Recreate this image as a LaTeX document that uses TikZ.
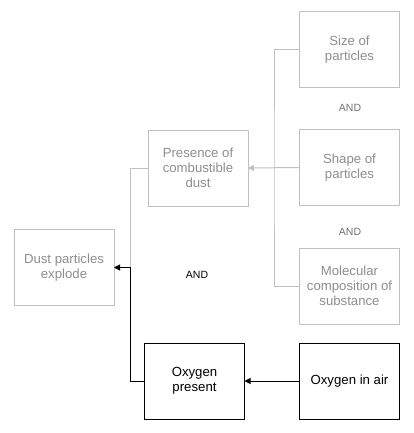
\documentclass[tikz,border=0pt]{standalone}
\usepackage{fontspec}
\setmainfont{Liberation Sans}
\usepackage{xcolor}
\usepackage{tkz-graph}
\usetikzlibrary{arrows.meta}

\definecolor{boxgrey}{HTML}{C0C0C0}
\definecolor{textgrey}{HTML}{8E8E8E}
\definecolor{andgrey}{HTML}{707070}

\tikzset{boxsize/.style = {minimum width=100pt, minimum height=76pt,
                           align=center, font=\fontsize{13.2}{15}\selectfont},
         greylink/.style = {draw=boxgrey, line width=1pt},
         darklink/.style = {draw=black, line width=1pt},
         tip/.style      = {-{Triangle[length=6pt,width=6pt]}},
         andtext/.style  = {font=\fontsize{10.5}{12}\selectfont}}

\begin{document}
\begin{tikzpicture}[x=1pt, y=-1pt]
  \useasboundingbox (0,0) rectangle (413,433);

%part grey
\SetVertexNormal[Shape     = rectangle,
                 FillColor = white,
                 LineColor = boxgrey,
                 TextColor = textgrey,
                 LineWidth = 1pt]
\tikzset{VertexStyle/.append style={boxsize}}
\Vertex[x=349.5, y=50,    L={Size of\\particles}]{Size}
\Vertex[x=349.5, y=167.5, L={Shape of\\particles}]{Shape}
\Vertex[x=349.5, y=286,   L={Molecular\\composition of\\substance}]{Molecular}
\Vertex[x=198,   y=168,   L={Presence of\\combustible\\dust}]{Presence}
\Vertex[x=64,    y=267.5, L={Dust particles\\explode}]{Dust}

%part black
\SetVertexNormal[Shape     = rectangle,
                 FillColor = white,
                 LineColor = black,
                 TextColor = black,
                 LineWidth = 1pt]
\tikzset{VertexStyle/.append style={boxsize}}
\Vertex[x=194.5, y=381, L={Oxygen\\present}]{OxPresent}
\Vertex[x=349.5, y=381, L={Oxygen in air}]{OxAir}

% and labels
\node[andtext, text=andgrey] (and1) at (350,108) {AND};
\node[andtext, text=andgrey] (and2) at (350,232) {AND};
\node[andtext]               (and3) at (197,275) {AND};

% edges
\coordinate (join)  at (274,167.5);
\coordinate (merge) at (130,267.5);
\draw[greylink] (Size.west) -| (join) |- (Molecular.west);
\draw[greylink, tip] (Shape.west) -- (Presence.east);
\draw[greylink] (Presence.west) -| (merge);
\draw[darklink, tip] (OxPresent.west) -| (merge) -- (Dust.east);
\draw[darklink, tip] (OxAir.west) -- (OxPresent.east);

\end{tikzpicture}
\end{document}
